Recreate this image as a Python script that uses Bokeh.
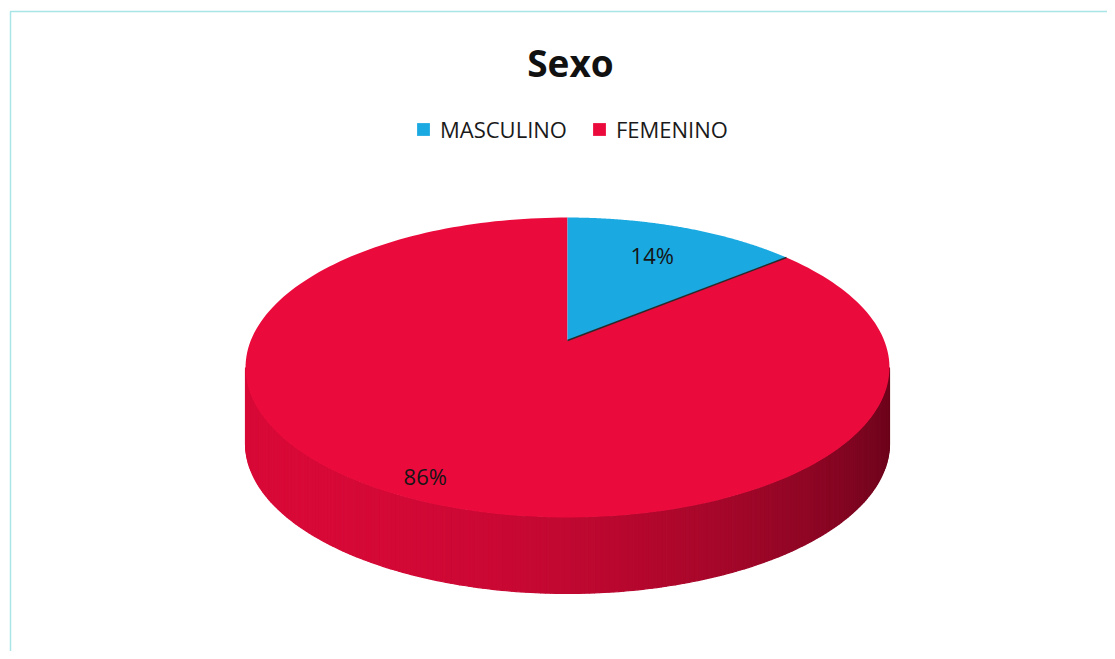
import numpy as np
from bokeh.plotting import figure
from bokeh.models import Range1d, Legend, LegendItem
from bokeh.core.properties import value
from bokeh.embed import file_html
from bokeh.resources import INLINE

# ---- data ----
chart_title = "Sexo"
categories = ["MASCULINO", "FEMENINO"]
values = [14, 86]
labels = ["14%", "86%"]

# ---- style ----
slice_colors = ["#1BA9E1", "#EB0A3C"]
top_rgb = (235, 10, 60)
label_radius = [0.70, 0.90]

W, H = 1107, 651
p = figure(width=W, height=H, x_range=Range1d(0, W), y_range=Range1d(H, 0),
           output_backend="svg", toolbar_location=None, min_border=0,
           x_axis_type=None, y_axis_type=None)
p.outline_line_color = None
p.background_fill_color = "white"
p.border_fill_color = "white"

# chart border (scan)
p.line(x=[10, 10, 1130], y=[700, 11, 11], line_color="#A9E4E6", line_width=1.5)

# perspective pie geometry
cx, cy, R, S, K, D = 567.0, 340.0, 316.7, 145.1, 0.18, 76.0


def proj(theta_deg, r=1.0):
    t = np.radians(theta_deg)
    u = r * np.sin(t)
    v = r * np.cos(t)
    den = 1 + K * v
    return cx + R * u / den, cy - S * v / den


total = float(sum(values))
bounds = np.concatenate([[0.0], np.cumsum(values) / total * 360.0])

# ---- side (visible near half) ----
t_sil = np.degrees(np.arccos(-K))
thetas = np.linspace(t_sil, 360 - t_sil, 220)
sx, sy, sc = [], [], []
for a, b in zip(thetas[:-1], thetas[1:]):
    xa, ya = proj(a)
    xb, yb = proj(b)
    sx.append([xa, xb, xb, xa])
    sy.append([ya, yb, yb + D, ya + D])
    u = np.sin(np.radians((a + b) / 2))
    f = 0.82 - 0.235 * u - 0.135 * u * u
    r_, g_, b_ = (int(max(0, min(255, c * f))) for c in top_rgb)
    sc.append("#%02x%02x%02x" % (r_, g_, b_))
p.patches(xs=sx, ys=sy, fill_color=sc, line_color=sc, line_width=1.2)

# ---- top faces ----
xs, ys = [], []
for i in range(len(values)):
    arc = np.linspace(bounds[i], bounds[i + 1], 200)
    px, py = proj(arc)
    xs.append([cx] + list(px))
    ys.append([cy] + list(py))
order = [1, 0]
top = p.patches(xs=[xs[i] for i in order], ys=[ys[i] for i in order],
                fill_color=[slice_colors[i] for i in order], line_color=None)

# separator line between slices
ex, ey = proj(bounds[1])
p.line(x=[cx, ex], y=[cy, ey], line_color="#2a2a2a", line_width=1.5)

# ---- data labels ----
lx, ly = [], []
for i in range(len(values)):
    mid = (bounds[i] + bounds[i + 1]) / 2
    x_, y_ = proj(mid, label_radius[i])
    lx.append(x_)
    ly.append(y_)
p.text(x=lx, y=ly, text=labels, text_font=value("Open Sans"), text_font_size="22px",
       text_color="#151515", text_align="center", text_baseline="middle", y_offset=-3)

# ---- title ----
p.text(x=[570], y=[62], text=[chart_title], text_font=value("Open Sans"), text_font_size="37px",
       text_font_style="bold", text_color="#111111", text_align="center", text_baseline="middle")

# ---- legend ----
items = [LegendItem(label=categories[0], renderers=[top], index=1),
         LegendItem(label=categories[1], renderers=[top], index=0)]
legend = Legend(items=items, orientation="horizontal", location=(415, 507),
                glyph_width=16, glyph_height=16, label_standoff=9, spacing=24,
                padding=0, margin=0, border_line_color=None, background_fill_alpha=0,
                label_text_font="Open Sans", label_text_font_size="22px",
                label_text_color="#1a1a1a")
p.add_layout(legend)

open("out.html", "w").write(file_html(p, INLINE))
